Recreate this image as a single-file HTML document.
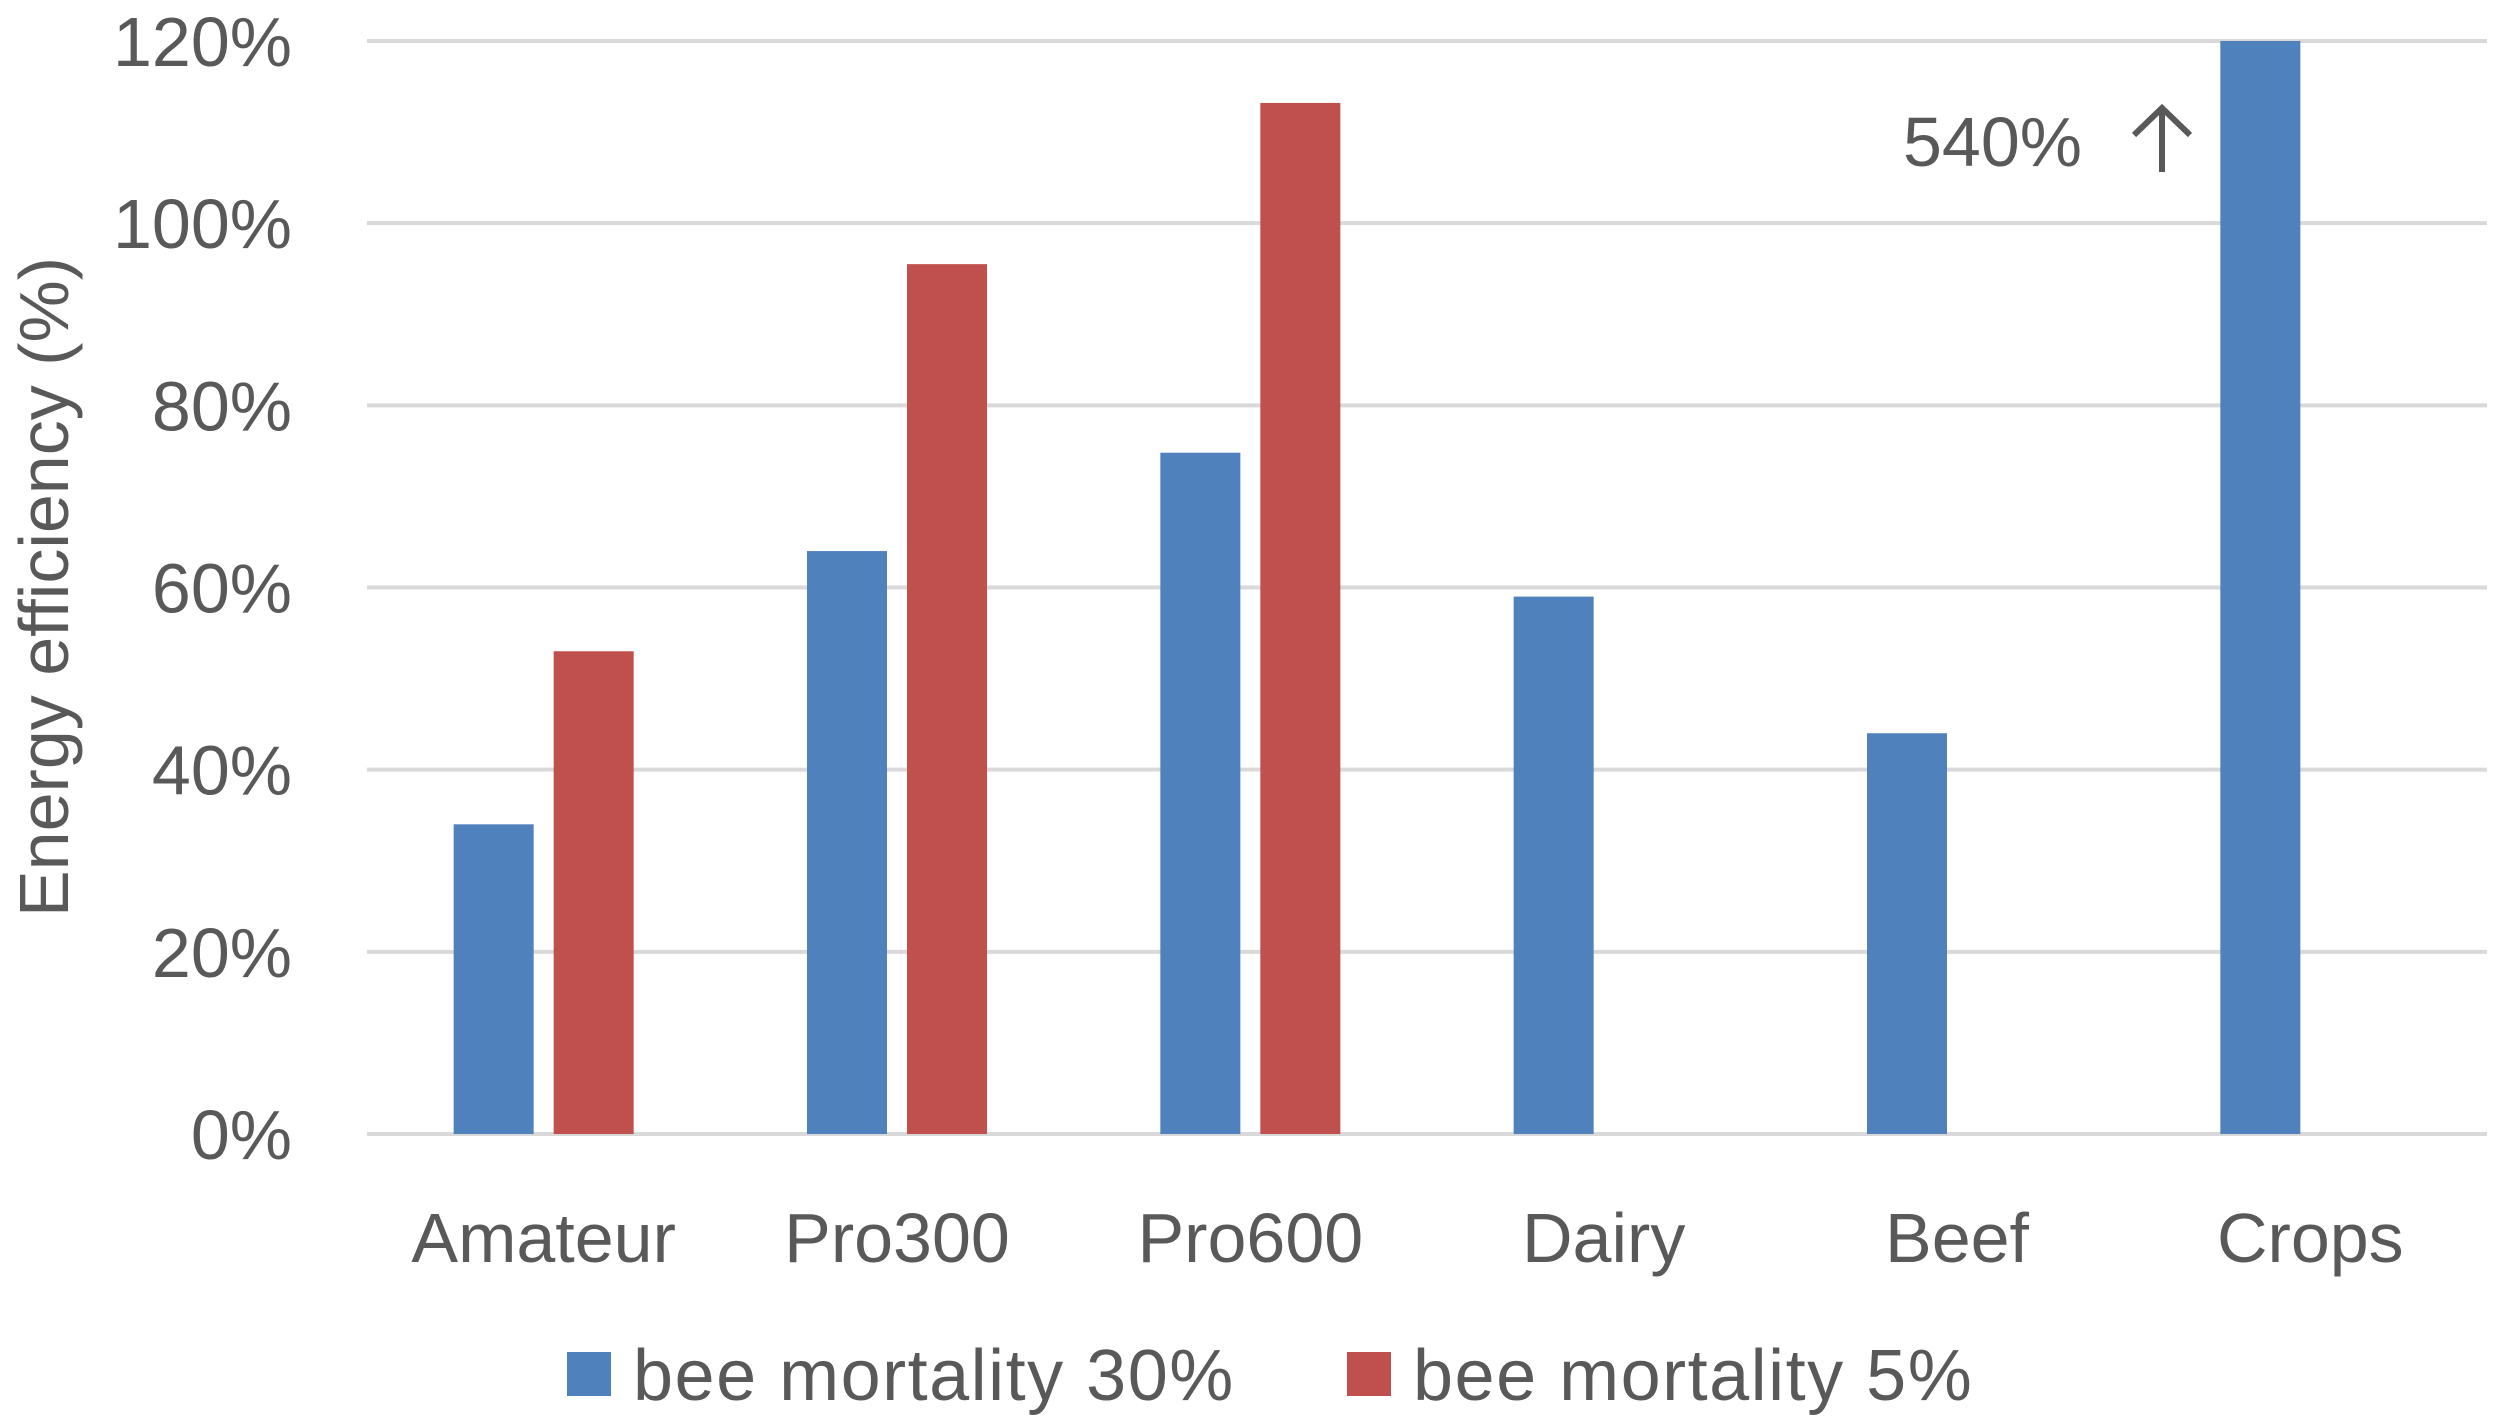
<!DOCTYPE html>
<html><head><meta charset="utf-8"><style>
body{margin:0;background:#fff}
svg{display:block}
text{font-family:"Liberation Sans",sans-serif;fill:#595959}
</style></head><body>
<svg id="chart" width="2500" height="1426" viewBox="0 0 2500 1426"></svg>
<script>
const categories=["Amateur","Pro300","Pro600","Dairy","Beef","Crops"];
const series30=[34,64,74.8,59,44,540];
const series5=[53,95.5,113.2,null,null,null];
const yTicks=[0,20,40,60,80,100,120];
const tickLabels=["0%","20%","40%","60%","80%","100%","120%"];
const seriesNames=["bee mortality 30%","bee mortality 5%"];
const annotationText="540%";

const svg=document.getElementById('chart');
const NS="http://www.w3.org/2000/svg";
const L=367,R=2487,Y0=1134,Y120=41,yMax=120;
function y(v){return Y0-(Math.min(v,yMax)/yMax)*(Y0-Y120);}
const gw=(R-L)/categories.length;
function xc(i){return L+gw*(i+0.5);}
function mk(tag,attrs){const e=document.createElementNS(NS,tag);for(const k in attrs)e.setAttribute(k,attrs[k]);svg.appendChild(e);return e;}

yTicks.forEach((t,i)=>{
  const g=mk('line',{x1:L,x2:R,y1:y(t),y2:y(t),stroke:'#D9D9D9','stroke-width':4});
  
  
  const tx=mk('text',{x:292,y:y(t)+25,'text-anchor':'end','font-size':70});
  tx.textContent=tickLabels[i];
  
  
});
const bw=80,off=50;
categories.forEach((c,i)=>{
  if(series30[i]!=null){
    const b=mk('rect',{x:xc(i)-off-bw/2,y:y(series30[i]),width:bw,height:Y0-y(series30[i]),fill:'#4F81BD'});
    
    
  }
  if(series5[i]!=null){
    const b=mk('rect',{x:xc(i)+off-bw/2,y:y(series5[i]),width:bw,height:Y0-y(series5[i]),fill:'#C0504D'});
    
    
  }
  const t=mk('text',{x:xc(i),y:1262,'text-anchor':'middle','font-size':70});
  t.textContent=c;
  
  
});
const ann=mk('text',{x:2082,y:166,'text-anchor':'end','font-size':70});
ann.textContent=annotationText;


const arr=mk('path',{d:'M2162 172 L2162 108 M2134 135 L2162 108 L2190 135',stroke:'#595959','stroke-width':6,fill:'none'});



const yt=mk('text',{x:0,y:0,'text-anchor':'middle','font-size':70,transform:'translate(68,587) rotate(-90)'});
yt.textContent="Energy efficiency (%)";



const legX=[567,1347],cols=['#4F81BD','#C0504D'];
seriesNames.forEach((n,i)=>{
  const s=mk('rect',{x:legX[i],y:1352,width:44,height:44,fill:cols[i]});
  
  
  const t=mk('text',{x:legX[i]+66,y:1400,'font-size':72,'letter-spacing':1.5});
  t.textContent=n;
  
  
});
</script>
</body></html>
